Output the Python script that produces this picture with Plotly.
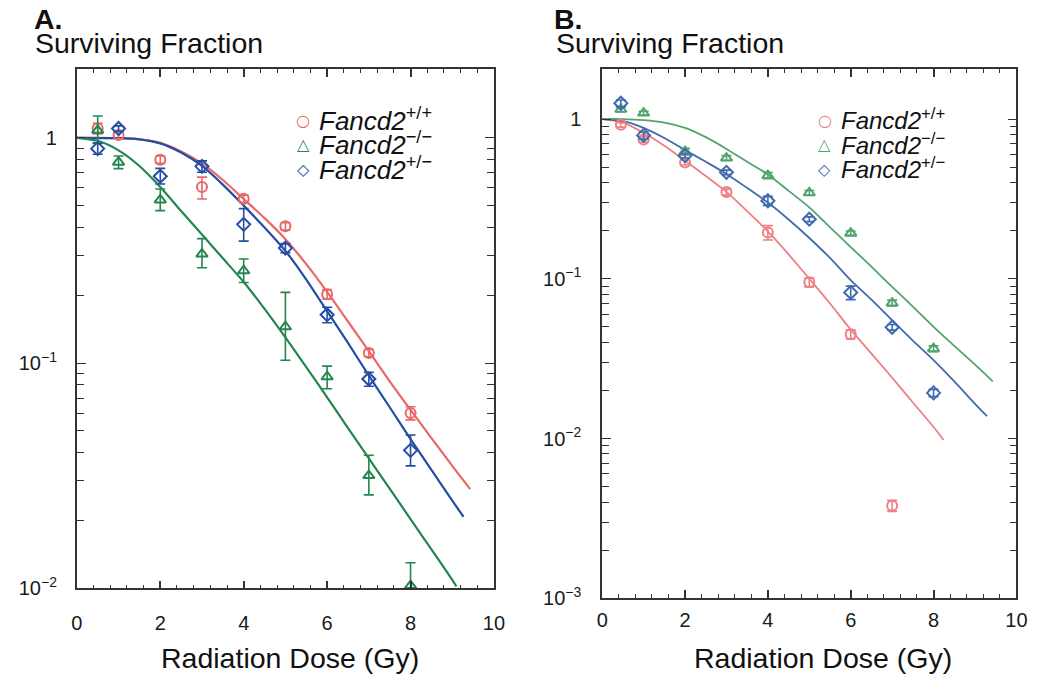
import plotly.graph_objects as go

# ---------------- data: panel A ----------------
dose_a = [0.5, 1, 2, 3, 4, 5, 6, 7, 8]
wt_a = [1.10, 1.03, 0.80, 0.605, 0.536, 0.405, 0.202, 0.111, 0.060]
wt_a_up = [0.06, 0.04, 0.03, 0.064, 0.02, 0.015, 0.01, 0.004, 0.004]
wt_a_dn = [0.06, 0.04, 0.03, 0.07, 0.02, 0.015, 0.01, 0.004, 0.004]
ko_a = [1.08, 0.78, 0.53, 0.305, 0.257, 0.145, 0.087, 0.0317, 0.0103]
ko_a_up = [0.17, 0.05, 0.063, 0.052, 0.033, 0.061, 0.010, 0.0073, 0.0027]
ko_a_dn = [0.13, 0.05, 0.055, 0.040, 0.029, 0.042, 0.010, 0.0057, 0.0023]
het_a = [0.895, 1.10, 0.675, 0.747, 0.413, 0.324, 0.164, 0.085, 0.041]
het_a_up = [0.05, 0.03, 0.057, 0.043, 0.072, 0.015, 0.013, 0.006, 0.007]
het_a_dn = [0.05, 0.03, 0.051, 0.044, 0.065, 0.015, 0.013, 0.006, 0.006]

fit_wt_a_x = [0, 1, 1.5, 2, 2.5, 3, 3.5, 4, 4.5, 5, 5.5, 6, 6.5, 7, 7.5, 8, 8.5, 9, 9.43]
fit_wt_a_y = [1.0, 0.997, 0.985, 0.95, 0.87, 0.77, 0.65, 0.535, 0.44, 0.355, 0.275, 0.207,
              0.153, 0.113, 0.083, 0.062, 0.0465, 0.035, 0.0276]
fit_het_a_x = [0, 1, 1.5, 2, 2.5, 3, 3.5, 4, 4.5, 5, 5.5, 6, 6.5, 7, 7.5, 8, 8.5, 9, 9.27]
fit_het_a_y = [1.0, 0.997, 0.985, 0.945, 0.86, 0.75, 0.62, 0.50, 0.40, 0.315, 0.235, 0.170,
               0.123, 0.088, 0.0637, 0.046, 0.0336, 0.0245, 0.0208]
fit_ko_a_x = [0, 0.5, 1, 1.5, 2, 2.5, 3, 3.5, 4, 4.5, 5, 5.5, 6, 6.5, 7, 7.5, 8, 8.5, 9, 9.1]
fit_ko_a_y = [1.0, 0.97, 0.88, 0.75, 0.605, 0.473, 0.372, 0.292, 0.229, 0.174, 0.130, 0.096,
              0.0705, 0.0515, 0.0378, 0.0277, 0.0203, 0.0149, 0.0109, 0.0102]

# ---------------- data: panel B ----------------
dose_b_wt = [0.45, 1, 2, 3, 4, 5, 6, 7]
wt_b = [0.92, 0.745, 0.535, 0.349, 0.195, 0.095, 0.045, 0.0038]
wt_b_err = [0.03, 0.03, 0.02, 0.015, 0.02, 0.006, 0.003, 0.0003]
dose_b = [0.45, 1, 2, 3, 4, 5, 6, 7, 8]
ko_b = [1.15, 1.09, 0.625, 0.57, 0.443, 0.345, 0.193, 0.0705, 0.0365]
ko_b_err = [0.04, 0.03, 0.03, 0.02, 0.02, 0.012, 0.006, 0.003, 0.0015]
het_b = [1.255, 0.79, 0.59, 0.464, 0.308, 0.236, 0.082, 0.0497, 0.0193]
het_b_err = [0.06, 0.04, 0.02, 0.015, 0.02, 0.008, 0.008, 0.002, 0.001]

fit_wt_b_x = [0, 0.5, 1, 1.5, 2, 2.5, 3, 3.5, 4, 4.5, 5, 5.5, 6, 6.5, 7, 7.5, 8, 8.24]
fit_wt_b_y = [1.0, 0.95, 0.82, 0.68, 0.548, 0.44, 0.35, 0.265, 0.198, 0.142, 0.100, 0.07,
              0.048, 0.034, 0.024, 0.0168, 0.0118, 0.0098]
fit_het_b_x = [0, 0.5, 1, 1.5, 2, 2.5, 3, 3.5, 4, 4.5, 5, 5.5, 6, 6.5, 7, 7.5, 8, 8.5, 9, 9.29]
fit_het_b_y = [1.0, 0.97, 0.88, 0.76, 0.64, 0.54, 0.453, 0.37, 0.30, 0.235, 0.18, 0.135,
               0.098, 0.074, 0.055, 0.041, 0.031, 0.0228, 0.0165, 0.0138]
fit_ko_b_x = [0, 0.5, 1, 1.5, 2, 2.5, 3, 3.5, 4, 4.5, 5, 5.5, 6, 6.5, 7, 7.5, 8, 8.5, 9, 9.43]
fit_ko_b_y = [1.0, 1.0, 0.985, 0.95, 0.88, 0.77, 0.65, 0.54, 0.45, 0.355, 0.28, 0.21,
              0.158, 0.119, 0.089, 0.067, 0.050, 0.038, 0.029, 0.0228]

genotypes = ["+/+", "\u2212/\u2212", "+/\u2212"]
gene = "Fancd2"
legend_glyphs = ["\u25CB", "\u25B3", "\u25C7"]
y_ticks_a = [0.01, 0.1, 1]
y_text_a = ["10<sup>\u22122</sup>", "10<sup>\u22121</sup>", "1"]
y_ticks_b = [0.001, 0.01, 0.1, 1]
y_text_b = ["10<sup>\u22123</sup>", "10<sup>\u22122</sup>", "10<sup>\u22121</sup>", "1"]

# ---------------- styling ----------------
FONT = "Liberation Sans, Arial, Helvetica, sans-serif"
cols_a = ["rgb(232,104,104)", "rgb(36,134,78)", "rgb(36,78,165)"]
cols_b = ["rgb(238,128,132)", "rgb(82,164,110)", "rgb(66,106,176)"]
symbols = ["circle-open", "triangle-up-open", "diamond-open"]
W, H = 1052, 686


def px2x(p):
    return p / W


def px2y(p):
    return 1 - p / H


names = ["<i>%s</i><sup>%s</sup>" % (gene, g) for g in genotypes]

fig = go.Figure()


def add_fit(x, y, col, xa, ya, w):
    fig.add_trace(go.Scatter(x=x, y=y, mode="lines",
                             line=dict(color=col, width=w, shape="spline", smoothing=0.8),
                             showlegend=False, xaxis=xa, yaxis=ya, hoverinfo="skip"))


def add_pts(x, y, up, dn, col, sym, name, xa, ya, size=10):
    fig.add_trace(go.Scatter(
        x=x, y=y, mode="markers", name=name, xaxis=xa, yaxis=ya, showlegend=False,
        marker=dict(symbol=sym, size=size, color=col, line=dict(color=col, width=2)),
        error_y=dict(type="data", symmetric=False, array=up, arrayminus=dn,
                     color=col, thickness=1.6, width=5)))


# panel A
add_fit(fit_wt_a_x, fit_wt_a_y, cols_a[0], "x", "y", 2.2)
add_fit(fit_het_a_x, fit_het_a_y, cols_a[2], "x", "y", 2.2)
add_fit(fit_ko_a_x, fit_ko_a_y, cols_a[1], "x", "y", 2.2)
add_pts(dose_a, wt_a, wt_a_up, wt_a_dn, cols_a[0], symbols[0], names[0], "x", "y")
add_pts(dose_a, ko_a, ko_a_up, ko_a_dn, cols_a[1], symbols[1], names[1], "x", "y")
add_pts(dose_a, het_a, het_a_up, het_a_dn, cols_a[2], symbols[2], names[2], "x", "y")

# panel B
add_fit(fit_wt_b_x, fit_wt_b_y, cols_b[0], "x2", "y2", 1.8)
add_fit(fit_het_b_x, fit_het_b_y, cols_b[2], "x2", "y2", 1.8)
add_fit(fit_ko_b_x, fit_ko_b_y, cols_b[1], "x2", "y2", 1.8)
add_pts(dose_b_wt, wt_b, wt_b_err, wt_b_err, cols_b[0], symbols[0], names[0], "x2", "y2")
add_pts(dose_b, ko_b, ko_b_err, ko_b_err, cols_b[1], symbols[1], names[1], "x2", "y2")
add_pts(dose_b, het_b, het_b_err, het_b_err, cols_b[2], symbols[2], names[2], "x2", "y2")

AX_COL = "#333333"


def x_axis(standoff):
    return dict(range=[0, 10], tickmode="linear", tick0=0, dtick=2, ticks="inside", ticklen=8,
                tickwidth=1.5, tickcolor=AX_COL, showline=True, linecolor=AX_COL, linewidth=1.8,
                mirror="ticks", showgrid=False, zeroline=False,
                tickfont=dict(family=FONT, size=20, color="#1a1a1a"), ticklabelstandoff=standoff,
                minor=dict(tickmode="linear", dtick=0.4, tick0=0, ticks="inside", ticklen=4,
                           tickwidth=1.3, tickcolor=AX_COL, showgrid=False))


def minor_log(decades):
    return [k * d for d in decades[:-1] for k in range(2, 10)]


def y_axis(vals, text, rng, standoff):
    return dict(type="log", range=rng, tickmode="array", tickvals=vals, ticktext=text,
                ticks="inside", ticklen=9, tickwidth=1.4, tickcolor=AX_COL, showline=True,
                linecolor=AX_COL, linewidth=1.8, mirror="ticks", showgrid=False, zeroline=False,
                tickfont=dict(family=FONT, size=20, color="#1a1a1a"), ticklabelstandoff=standoff,
                minor=dict(tickmode="array", tickvals=minor_log(vals), ticks="inside", ticklen=7,
                           tickwidth=1.3, tickcolor=AX_COL, showgrid=False))


fig.update_layout(
    width=W, height=H, paper_bgcolor="white", plot_bgcolor="white",
    margin=dict(l=0, r=0, t=0, b=0), showlegend=False,
    xaxis=dict(domain=[px2x(72), px2x(496)], anchor="y", **x_axis(16)),
    yaxis=dict(domain=[px2y(598), px2y(70)], anchor="x", **y_axis(y_ticks_a, y_text_a, [-2, 0.306], 14)),
    xaxis2=dict(domain=[px2x(606), px2x(1027)], anchor="y2", **x_axis(3)),
    yaxis2=dict(domain=[px2y(608), px2y(70)], anchor="x2", **y_axis(y_ticks_b, y_text_b, [-3, 0.314], 15)),
)

ann_font_big = dict(family=FONT, size=28.5, color="#111")
annots = [
    dict(text="<b>A.</b>", x=px2x(26), y=px2y(1), xanchor="left", yanchor="top", font=ann_font_big),
    dict(text="Surviving Fraction", x=px2x(27), y=px2y(25), xanchor="left", yanchor="top", font=ann_font_big),
    dict(text="<b>B.</b>", x=px2x(555), y=px2y(1), xanchor="left", yanchor="top", font=ann_font_big),
    dict(text="Surviving Fraction", x=px2x(557), y=px2y(25), xanchor="left", yanchor="top", font=ann_font_big),
    dict(text="Radiation Dose (Gy)", x=px2x(289), y=px2y(650), xanchor="center", yanchor="top", font=ann_font_big),
    dict(text="Radiation Dose (Gy)", x=px2x(830), y=px2y(650), xanchor="center", yanchor="top", font=ann_font_big),
]

# legends drawn as text rows (key glyph + label)
legend_rows = [122, 147, 172]
for (gx, tx, cols, fsize) in [(302, 316, cols_a, 26), (832, 847, cols_b, 24)]:
    for i in range(3):
        annots.append(dict(text="<b>%s</b>" % legend_glyphs[i], x=px2x(gx), y=px2y(legend_rows[i]),
                           xanchor="center", yanchor="middle",
                           font=dict(family="DejaVu Sans", size=16, color=cols[i])))
        annots.append(dict(text=names[i], x=px2x(tx), y=px2y(legend_rows[i] - 1),
                           xanchor="left", yanchor="middle",
                           font=dict(family=FONT, size=fsize, color="#111")))

for a in annots:
    a.update(xref="paper", yref="paper", showarrow=False)
fig.update_layout(annotations=annots)

fig.write_html("out.html", config={"displayModeBar": False},
               post_script="document.body.style.margin='0px';document.body.style.overflow='hidden';")
